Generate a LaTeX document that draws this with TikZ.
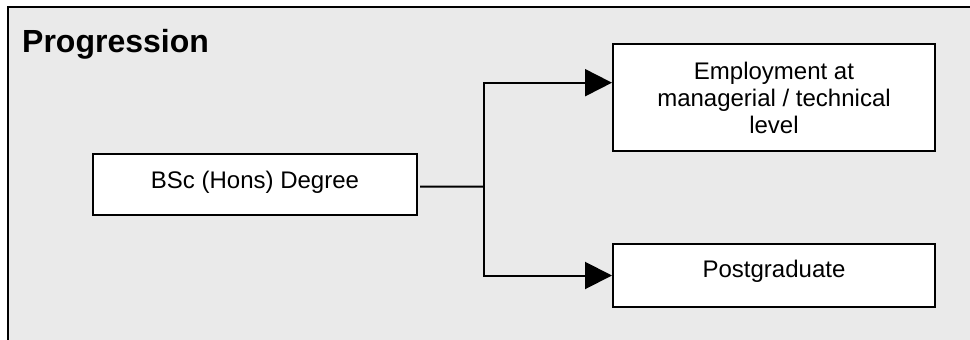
\documentclass[tikz,border=0pt]{standalone}
\usepackage{fontspec}
\setmainfont{Liberation Sans}
\usetikzlibrary{arrows.meta}
\definecolor{bggray}{HTML}{EAEAEA}
\tikzset{
  box/.style={draw=black, line width=2pt, fill=white, inner sep=0pt,
    font=\fontsize{24}{27}\selectfont, align=center},
  conn/.style={draw=black, line width=2pt},
  arr/.style={conn, -{Triangle[length=27pt,width=27pt]}}
}
\begin{document}
\begin{tikzpicture}[x=1pt,y=-1pt]
\useasboundingbox (0,0) rectangle (970,340);
\fill[bggray] (8,7) rectangle (970,340);
\draw[line width=2pt] (8,340) -- (8,7) -- (970,7);
\node[anchor=base west, inner sep=0pt, font=\fontsize{32}{38}\selectfont\bfseries] (title) at (22,52) {Progression};
\node[box, minimum width=324pt, minimum height=60.5pt, text height=17pt, text depth=10pt] (bsc) at (255,184.5) {BSc (Hons) Degree};
\node[box, minimum width=322pt, minimum height=107pt] (emp) at (774,97.5) {Employment at\\managerial / technical\\level};
\node[box, minimum width=322pt, minimum height=63pt, text height=17pt, text depth=14pt] (post) at (774,275.5) {Postgraduate};
\coordinate (j) at (484,186.7);
\draw[conn] ([xshift=2pt,yshift=-2pt]bsc.east) -- (j);
\draw[arr] (j) |- ([yshift=14.8pt]emp.west);
\draw[arr] (j) |- (post.west);
\end{tikzpicture}
\end{document}
